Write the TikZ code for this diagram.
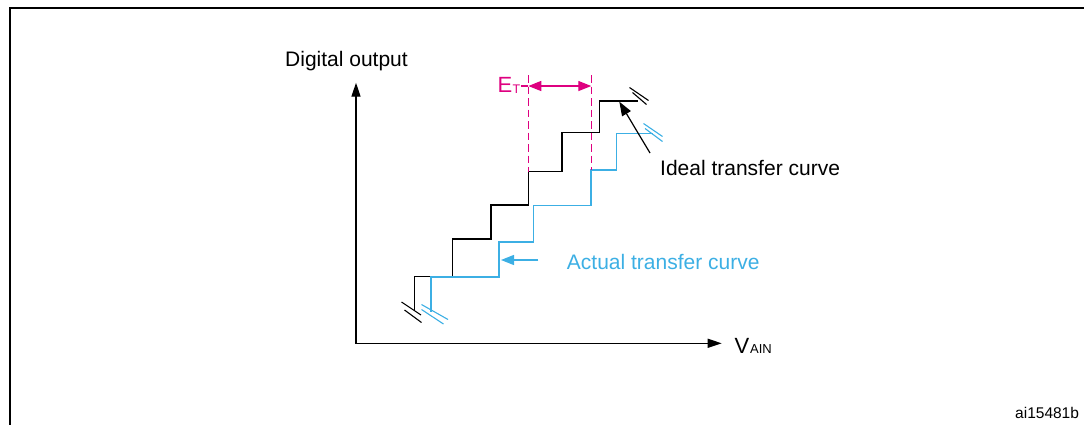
\documentclass[tikz,border=0pt]{standalone}
\usepackage{fontspec}
\setmainfont{Liberation Sans}
\usetikzlibrary{arrows.meta}
\definecolor{stblue}{RGB}{60,175,228}
\definecolor{stmag}{RGB}{222,0,128}
\begin{document}
\begin{tikzpicture}[x=1pt,y=-1pt,
  lbl/.style={inner sep=0pt, anchor=base west, font=\fontsize{21}{25}\selectfont},
  stair/.style={line width=1.15pt, line join=miter},
  brk/.style={line width=1.1pt},
  bitri/.style={{Triangle[length=13pt,width=10pt]}-{Triangle[length=13pt,width=10pt]}},
  etdash/.style={stmag, line width=1.5pt, dash pattern=on 7.5pt off 4pt},
]
\useasboundingbox (0,0) rectangle (1084,424);
% frame
\begin{scope}
\clip (0,0) rectangle (1084,424);
\draw[line width=2pt] (10,430) -- (10,7.5) -- (1090,7.5);
\end{scope}
% axes
\coordinate (O) at (356,343.3);
\coordinate (Ytip) at (356,82.7);
\coordinate (Xtip) at (721.7,343.3);
\draw[line width=1.3pt, {Triangle[length=14pt,width=9pt]}-{Triangle[length=14pt,width=9pt]}] (Ytip) -- (O) -- (Xtip);
% labels
\node[lbl] (dout) at (285,66.7) {Digital output};
\node[lbl, font=\fontsize{22}{25}\selectfont] (vain) at (734.3,353.3) {V\hspace{1pt}{\fontsize{13}{13}\selectfont AIN}};
\node[lbl] (ideal) at (660,175) {Ideal transfer curve};
\node[lbl, text=stblue] (actual) at (566.7,269) {Actual transfer curve};
\node[lbl, font=\fontsize{15.5}{18}\selectfont] (ref) at (1015,418) {ai15481b};
\node[lbl, text=stmag, font=\fontsize{22}{24}\selectfont] (et) at (497.3,92.3) {E\hspace{0.5pt}{\fontsize{12.5}{12}\selectfont\raisebox{-1pt}{T}}};
% ideal staircase
\draw[stair] (414.3,310.5) -- (414.3,276.7) -- (452.3,276.7) -- (452.3,239) -- (491,239) -- (491,205)
  -- (528.3,205) -- (528.3,171.7) -- (562,171.7) -- (562,132.7) -- (599.3,132.7) -- (599.3,101) -- (637.7,101);
% actual staircase
\draw[stair, stblue] (431,311.7) -- (431,277) -- (499,277) -- (499,242) -- (533.3,242) -- (533.3,205.7)
  -- (591,205.7) -- (591,170) -- (616.7,170) -- (616.7,133.3) -- (653,133.3);
% break marks
\draw[brk] (401.5,302) -- (421,315);
\draw[brk] (404.5,310) -- (421.5,322.5);
\draw[brk, stblue] (421.5,304.5) -- (448,319.5);
\draw[brk, stblue] (421.5,309.5) -- (443.5,324);
\draw[brk] (629.5,87.5) -- (648.5,100.5);
\draw[brk] (632.5,92.5) -- (646.5,104.5);
\draw[brk, stblue] (643.5,123.5) -- (662.5,136.5);
\draw[brk, stblue] (645,128.5) -- (662.5,141.5);
% E_T
\coordinate (etL) at (528.3,86);
\coordinate (etR) at (591.3,86);
\draw[etdash] (528.3,75) -- (528.3,171.7);
\draw[etdash] (591.3,75) -- (591.3,170);
\draw[stmag, line width=1.3pt] (et.base east) ++(0,-6.3) -- (etL);
\draw[stmag, line width=1.3pt, bitri] (etL) -- (etR);
% pointer arrows
\coordinate (idealTail) at (650,153);
\coordinate (idealTip) at (619.3,101.7);
\draw[line width=1.2pt, -{Triangle[length=14pt,width=10pt]}] (idealTail) -- (idealTip);
\coordinate (actTail) at (538.3,260);
\coordinate (actTip) at (501,260);
\draw[stblue, line width=1.3pt, -{Triangle[length=13pt,width=10pt]}] (actTail) -- (actTip);
\end{tikzpicture}
\end{document}
